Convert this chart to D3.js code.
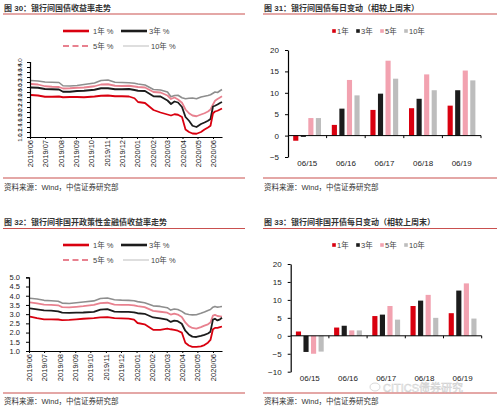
<!DOCTYPE html>
<html><head><meta charset="utf-8">
<script src="https://cdn.jsdelivr.net/npm/d3@7"></script>
<style>
body{margin:0;background:#fff;}
svg{display:block;font-family:"Liberation Sans",Arial,"Noto Sans CJK SC",sans-serif;}
.cjk{font-family:"Liberation Sans","Noto Sans CJK SC",sans-serif;}
</style></head>
<body>
<svg id="c" width="499" height="409"></svg>
<script>
// ---------- DATA ----------
const dates = ["2019-06-03","2019-06-17","2019-07-01","2019-07-15","2019-07-29","2019-08-06","2019-08-20","2019-09-03","2019-09-17","2019-10-08","2019-10-21","2019-11-04","2019-11-18","2019-12-02","2019-12-16","2019-12-27","2020-01-03","2020-01-17","2020-02-03","2020-02-17","2020-03-02","2020-03-09","2020-03-16","2020-03-23","2020-03-31","2020-04-07","2020-04-14","2020-04-21","2020-04-29","2020-05-08","2020-05-15","2020-05-22","2020-05-27","2020-06-01","2020-06-05","2020-06-10","2020-06-15","2020-06-19"];
const monthLabels = ["2019/06","2019/07","2019/08","2019/09","2019/10","2019/11","2019/12","2020/01","2020/02","2020/03","2020/04","2020/05","2020/06"];

// Fig 30: government bond yields (%)
const gov10y = [3.26,3.24,3.20,3.19,3.18,3.05,3.04,3.06,3.10,3.16,3.26,3.28,3.19,3.18,3.17,3.15,3.12,3.08,2.90,2.88,2.80,2.61,2.66,2.67,2.57,2.53,2.55,2.56,2.53,2.60,2.63,2.66,2.69,2.75,2.80,2.78,2.85,2.90];
const gov5y  = [3.12,3.10,3.03,3.01,3.00,2.94,2.95,2.97,2.98,3.03,3.10,3.11,3.05,3.04,3.05,3.02,3.00,2.98,2.80,2.78,2.66,2.52,2.58,2.50,2.37,2.10,1.95,1.86,1.83,1.90,1.95,2.02,2.10,2.30,2.45,2.52,2.58,2.63];
const gov3y  = [2.98,2.97,2.92,2.91,2.90,2.81,2.81,2.84,2.85,2.89,2.95,2.95,2.91,2.91,2.92,2.88,2.85,2.84,2.63,2.62,2.46,2.32,2.42,2.38,2.20,1.80,1.65,1.45,1.40,1.52,1.58,1.65,1.72,2.22,2.25,2.30,2.36,2.40];
const gov1y  = [2.68,2.66,2.61,2.61,2.62,2.59,2.60,2.60,2.59,2.62,2.65,2.66,2.63,2.63,2.62,2.55,2.40,2.36,2.08,1.98,1.90,1.86,1.91,1.89,1.80,1.30,1.20,1.14,1.13,1.20,1.30,1.38,1.45,1.95,2.02,2.05,2.10,2.14];

// Fig 32: policy bank (non-CDB) yields (%)
const pb10y = [3.86,3.82,3.75,3.73,3.70,3.60,3.58,3.62,3.66,3.72,3.85,3.88,3.78,3.76,3.75,3.73,3.68,3.62,3.45,3.42,3.35,3.22,3.28,3.25,3.15,3.02,2.98,2.96,2.97,3.05,3.12,3.20,3.25,3.38,3.42,3.38,3.40,3.42];
const pb5y  = [3.64,3.58,3.52,3.50,3.48,3.38,3.37,3.40,3.43,3.50,3.60,3.62,3.52,3.50,3.50,3.48,3.43,3.38,3.18,3.13,3.08,2.98,3.03,2.98,2.85,2.55,2.35,2.25,2.22,2.30,2.38,2.45,2.55,2.92,2.96,2.90,2.88,2.86];
const pb3y  = [3.31,3.26,3.20,3.19,3.15,3.08,3.07,3.08,3.09,3.12,3.25,3.27,3.14,3.12,3.12,3.10,3.05,3.02,2.82,2.77,2.70,2.58,2.65,2.62,2.48,2.10,1.90,1.78,1.76,1.82,1.88,1.95,2.05,2.70,2.75,2.66,2.72,2.80];
const pb1y  = [2.86,2.78,2.72,2.72,2.71,2.68,2.69,2.72,2.75,2.78,2.82,2.84,2.78,2.77,2.76,2.70,2.52,2.45,2.15,2.15,2.22,2.18,2.15,2.10,2.00,1.45,1.30,1.22,1.22,1.25,1.32,1.45,1.60,2.18,2.25,2.26,2.30,2.33];

// Bar charts: daily change vs last weekend (bp)
const days = ["06/15","06/16","06/17","06/18","06/19"];
const barSeries = ["1年","3年","5年","10年"];
const govChg1y  = [-1.2, 2.5, 6.0, 6.4, 7.0];
const govChg3y  = [-0.3, 6.3, 9.8, 8.6, 10.6];
const govChg5y  = [4.1, 13.0, 17.5, 14.3, 15.2];
const govChg10y = [4.1, 9.4, 13.3, 10.6, 12.9];
const pbChg1y  = [1.2, 2.3, 5.5, 8.3, 6.3];
const pbChg3y  = [-4.5, 2.8, 5.9, 9.8, 12.6];
const pbChg5y  = [-5.0, 1.5, 8.3, 11.4, 14.6];
const pbChg10y = [-4.4, 1.5, 4.5, 5.0, 4.8];

// ---------- STYLE ----------
const RED="#d9000f", BLACK="#1c1c1c", PINK="#e8818f", GRAYL="#8e8e8e";
const PINKB="#f2a2b0", GRAYB="#bdbdbd", RULE="#c9504f";
const svg = d3.select("#c");
const parse = d3.timeParse("%Y-%m-%d");
const D = dates.map(parse);

function header(x0, x1, yTitle, yRule, title, yRule2, yNote){
  svg.append("text").attr("class","cjk").attr("x",x0+1).attr("y",yTitle)
    .attr("font-size",8).attr("font-weight",700).attr("fill","#333").text(title);
  svg.append("line").attr("x1",x0).attr("x2",x1).attr("y1",yRule).attr("y2",yRule)
    .attr("stroke",RULE).attr("stroke-width",1.2);
  svg.append("line").attr("x1",x0).attr("x2",x1).attr("y1",yRule2).attr("y2",yRule2)
    .attr("stroke",RULE).attr("stroke-width",1.2);
  svg.append("text").attr("class","cjk").attr("x",x0+1).attr("y",yNote)
    .attr("font-size",7.5).attr("fill","#333").text("资料来源：Wind，中信证券研究部");
}

function lineLegend(yRow1, yRow2){
  const items=[
    {x:63,y:yRow1,c:RED,w:2.6,dash:null,t:"1年 %",tx:93},
    {x:121,y:yRow1,c:BLACK,w:2.6,dash:null,t:"3年 %",tx:149},
    {x:63,y:yRow2,c:PINK,w:2.2,dash:"6,3.5",t:"5年 %",tx:93},
    {x:123,y:yRow2,c:"#bdbdbd",w:1,dash:null,t:"10年 %",tx:151}];
  items.forEach(it=>{
    svg.append("line").attr("x1",it.x).attr("x2",it.x+26).attr("y1",it.y).attr("y2",it.y)
      .attr("stroke",it.c).attr("stroke-width",it.w).attr("stroke-dasharray",it.dash);
    svg.append("text").attr("class","cjk").attr("x",it.tx).attr("y",it.y+2.6)
      .attr("font-size",7.5).attr("fill","#444").text(it.t);
  });
}

function lineChart(o){
  const x = d3.scaleTime().domain([parse("2019-06-01"), parse("2020-06-19")]).range([o.x0,o.x1]);
  const y = d3.scaleLinear().domain(o.yDom).range([o.yB,o.yT]);
  const g = svg.append("g");
  const line = d3.line().x((d,i)=>x(D[i])).y(d=>y(d));
  const series=[{v:o.s10,c:GRAYL,w:1.6},{v:o.s5,c:PINK,w:1.8},{v:o.s3,c:BLACK,w:1.8},{v:o.s1,c:RED,w:1.8}];
  series.forEach(s=>g.append("path").datum(s.v).attr("d",line).attr("fill","none")
    .attr("stroke",s.c).attr("stroke-width",s.w).attr("stroke-linejoin","round"));
  const ya = g.append("g").attr("transform",`translate(${o.x0},0)`)
    .call(d3.axisLeft(y).tickValues(o.yTicks).tickFormat(d3.format(".1f")).tickSize(3).tickPadding(o.yRot?2:6));
  ya.select(".domain").attr("stroke","#000").attr("stroke-width",1.2);
  ya.selectAll(".tick line").attr("stroke","#000");
  ya.selectAll("text").attr("font-size",o.yFont).attr("fill","#222");
  if(o.yRot){
    ya.selectAll("text").attr("transform","rotate(-90)").attr("text-anchor","middle")
      .attr("x",0).attr("y",-10).attr("dy","0.35em");
  }
  const months = monthLabels.map(m=>d3.timeParse("%Y/%m")(m));
  const xa = g.append("g").attr("transform",`translate(0,${o.yB})`)
    .call(d3.axisBottom(x).tickValues(months).tickFormat((d,i)=>monthLabels[i]).tickSize(2).tickSizeOuter(0));
  xa.select(".domain").attr("stroke","#000").attr("stroke-width",1);
  xa.selectAll(".tick line").attr("stroke","#000");
  xa.selectAll("text").attr("font-size",7.5).attr("fill","#222")
    .attr("transform","rotate(-90)").attr("text-anchor","end").attr("x",-3).attr("y",0).attr("dy","0.35em");
}

function barLegend(y){
  const items=[{x:334,c:RED,t:"1年"},{x:358,c:BLACK,t:"3年"},{x:382,c:PINKB,t:"5年"},{x:406,c:GRAYB,t:"10年"}];
  items.forEach(it=>{
    svg.append("rect").attr("x",it.x-1.8).attr("y",y-1.8).attr("width",3.6).attr("height",3.6).attr("fill",it.c);
    svg.append("text").attr("class","cjk").attr("x",it.x+3).attr("y",y+2.6)
      .attr("font-size",7.5).attr("fill","#444").text(it.t);
  });
}

function barChart(o){
  const x = d3.scaleBand().domain(days).range([o.x0,o.x1]).padding(0);
  const xs = d3.scaleBand().domain(barSeries).range([5.2, 33]).paddingInner(0.32);
  const y = d3.scaleLinear().domain(o.yDom).range([o.yB,o.yT]);
  const g = svg.append("g");
  const cols=[RED,BLACK,PINKB,GRAYB];
  o.vals.forEach((arr,si)=>{
    g.selectAll(null).data(arr).enter().append("rect")
      .attr("x",(d,i)=>x(days[i])+xs(barSeries[si]))
      .attr("width",xs.bandwidth())
      .attr("y",d=>Math.min(y(d),y(0)))
      .attr("height",d=>Math.abs(y(d)-y(0)))
      .attr("fill",cols[si]);
  });
  const ya = g.append("g").attr("transform",`translate(${o.x0},0)`)
    .call(d3.axisLeft(y).tickValues(o.yTicks).tickSize(3).tickPadding(6).tickSizeOuter(0));
  ya.select(".domain").attr("stroke","#000").attr("stroke-width",1.2);
  ya.selectAll(".tick line").attr("stroke","#000");
  ya.selectAll("text").attr("font-size",8).attr("fill","#222");
  g.append("line").attr("x1",o.x0).attr("x2",o.x1).attr("y1",y(0)).attr("y2",y(0))
    .attr("stroke","#000").attr("stroke-width",1);
  d3.range(1,days.length+1).forEach(i=>{
    const bx = o.x0 + i*x.step();
    g.append("line").attr("x1",bx).attr("x2",bx).attr("y1",y(0)).attr("y2",y(0)+2.5)
      .attr("stroke","#000").attr("stroke-width",1);
  });
  g.selectAll(null).data(days).enter().append("text")
    .attr("x",d=>x(d)+x.bandwidth()/2).attr("y",o.labY)
    .attr("text-anchor","middle").attr("font-size",8).attr("fill","#222").text(d=>d);
}

// ---------- PANELS ----------
header(3,245,10.5,14,"图 30：银行间国债收益率走势",178,190);
lineLegend(31,46);
lineChart({x0:30,x1:222,yT:62,yB:137,yDom:[1,4],yTicks:d3.range(10,41,2).map(v=>v/10),yRot:true,yFont:6.2,
  s10:gov10y,s5:gov5y,s3:gov3y,s1:gov1y});

header(263,497,10.5,14,"图 31：银行间国债每日变动（相较上周末）",178,190);
barLegend(31);
barChart({x0:288,x1:481,yT:50,yB:157,yDom:[-5,20],yTicks:[-5,0,5,10,15,20],labY:166,
  vals:[govChg1y,govChg3y,govChg5y,govChg10y]});

header(3,245,224.5,228.5,"图 32：银行间非国开政策性金融债收益率走势",393,404);
lineLegend(245,260);
lineChart({x0:29,x1:222,yT:277.3,yB:351,yDom:[1,5],yTicks:d3.range(2,11).map(v=>v/2),yRot:false,yFont:7.5,
  s10:pb10y,s5:pb5y,s3:pb3y,s1:pb1y});

header(263,497,224.5,228.5,"图 33：银行间非国开债每日变动（相较上周末）",393,404);
barLegend(245);
barChart({x0:290.7,x1:481.7,yT:264,yB:371.7,yDom:[-10,20],yTicks:[-10,-5,0,5,10,15,20],labY:381,
  vals:[pbChg1y,pbChg3y,pbChg5y,pbChg10y]});

// watermark
const wm = svg.append("g").attr("opacity",0.55);
wm.append("ellipse").attr("cx",375).attr("cy",387).attr("rx",5).attr("ry",4)
  .attr("fill","none").attr("stroke","#bbb").attr("stroke-width",1);
wm.append("text").attr("class","cjk").attr("x",383).attr("y",391.5).attr("font-size",11)
  .attr("fill","#eee").attr("stroke","#aaa").attr("stroke-width",0.5).text("CITICS债券研究");
</script>
</body></html>
